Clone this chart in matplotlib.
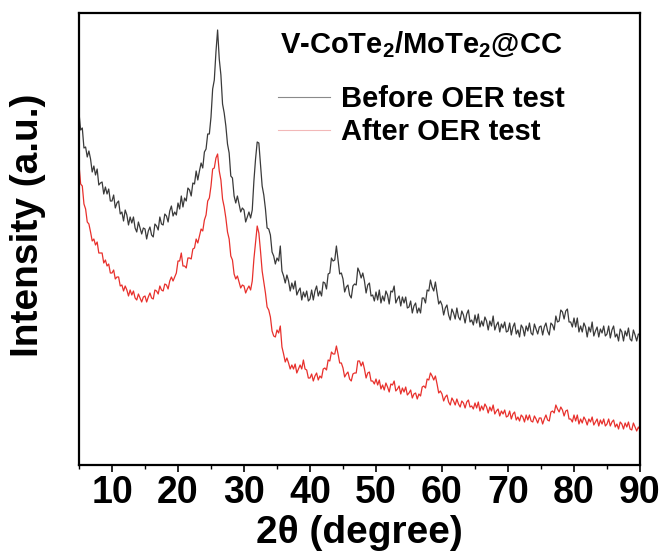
import numpy as np
import matplotlib
matplotlib.use("Agg")
import matplotlib.pyplot as plt
from matplotlib.lines import Line2D

plt.rcParams['font.family'] = ['Liberation Sans', 'DejaVu Sans']
plt.rcParams['font.weight'] = 'bold'
plt.rcParams['mathtext.fontset'] = 'custom'
plt.rcParams['mathtext.rm'] = 'Liberation Sans:bold'
plt.rcParams['mathtext.bf'] = 'Liberation Sans:bold'
plt.rcParams['mathtext.it'] = 'Liberation Sans:bold'

# scan positions, 2theta from 5 to 90 deg, 0.25 deg step
two_theta = np.arange(5.0, 90.001, 0.25)

# before OER test (grey) (a.u.), one row = 5 deg
before_oer = [
    352, 335, 337, 317, 318, 308, 314, 306, 293, 299, 290, 296, 280, 282, 283, 271, 278, 271, 276, 264,
    264, 270, 257, 262, 264, 251, 253, 244, 255, 250, 240, 248, 242, 248, 237, 233, 243, 237, 231, 237,
    236, 226, 234, 238, 230, 228, 241, 239, 235, 248, 241, 240, 251, 249, 243, 254, 259, 249, 253, 250,
    262, 256, 269, 258, 267, 264, 277, 275, 269, 282, 281, 294, 285, 294, 302, 297, 313, 316, 331, 331,
    348, 376, 385, 413, 435, 406, 390, 361, 352, 339, 321, 312, 289, 287, 269, 262, 269, 261, 253, 257,
    255, 243, 248, 253, 247, 255, 284, 306, 323, 322, 300, 279, 270, 256, 237, 236, 230, 213, 209, 201,
    207, 204, 219, 194, 189, 182, 190, 184, 174, 182, 176, 184, 170, 174, 177, 165, 173, 168, 174, 164,
    166, 175, 165, 174, 179, 169, 174, 169, 183, 182, 176, 191, 192, 207, 204, 205, 219, 205, 191, 192,
    186, 173, 178, 180, 170, 167, 179, 181, 180, 197, 193, 187, 192, 184, 172, 180, 182, 169, 170, 164,
    173, 165, 175, 162, 169, 164, 174, 170, 161, 174, 173, 179, 162, 166, 169, 159, 168, 162, 168, 157,
    158, 164, 152, 159, 162, 152, 157, 152, 167, 167, 162, 175, 174, 185, 178, 174, 183, 172, 161, 164,
    160, 150, 157, 160, 150, 145, 156, 152, 146, 157, 148, 145, 154, 150, 142, 151, 155, 143, 145, 140,
    150, 142, 151, 138, 144, 139, 148, 144, 135, 144, 139, 149, 135, 140, 143, 133, 141, 137, 143, 133,
    134, 142, 130, 138, 142, 131, 135, 128, 140, 137, 129, 139, 134, 142, 132, 130, 141, 136, 131, 138,
    139, 130, 138, 142, 134, 130, 142, 140, 135, 149, 143, 144, 155, 153, 146, 154, 156, 143, 143, 138,
    147, 138, 147, 133, 139, 133, 142, 138, 128, 138, 133, 143, 129, 134, 138, 128, 136, 132, 139, 129,
    131, 139, 127, 135, 139, 128, 131, 124, 136, 133, 124, 134, 129, 137, 126, 124, 135, 130, 124, 131,
    130,
]

# after OER test (red)
after_oer = [
    300, 281, 279, 261, 256, 243, 241, 233, 224, 226, 220, 223, 212, 212, 212, 202, 205, 199, 201, 192,
    192, 195, 186, 188, 188, 179, 180, 174, 179, 175, 169, 175, 170, 174, 167, 165, 171, 167, 163, 168,
    169, 163, 168, 172, 167, 166, 175, 174, 171, 179, 175, 174, 181, 180, 176, 184, 188, 184, 188, 192,
    204, 204, 212, 199, 199, 197, 207, 207, 206, 216, 217, 226, 222, 229, 236, 234, 245, 250, 264, 267,
    279, 296, 297, 307, 311, 294, 285, 266, 258, 247, 233, 226, 209, 205, 191, 186, 189, 183, 177, 180,
    179, 172, 176, 179, 175, 184, 206, 223, 239, 232, 214, 194, 183, 172, 158, 155, 148, 134, 129, 128,
    135, 132, 139, 118, 111, 103, 107, 102, 96, 100, 96, 101, 92, 96, 100, 96, 105, 96, 95, 87,
    87, 91, 84, 89, 92, 85, 89, 87, 96, 97, 95, 105, 104, 113, 111, 111, 119, 111, 102, 102,
    97, 88, 91, 93, 86, 84, 91, 92, 92, 104, 104, 99, 103, 96, 87, 92, 93, 84, 84, 81,
    86, 80, 85, 76, 80, 75, 82, 78, 73, 81, 80, 84, 74, 76, 79, 71, 77, 73, 78, 70,
    72, 75, 67, 71, 72, 66, 71, 69, 78, 79, 77, 86, 85, 92, 89, 85, 89, 81, 72, 74,
    71, 64, 68, 70, 63, 60, 67, 64, 60, 66, 61, 58, 64, 62, 57, 63, 65, 58, 59, 56,
    62, 57, 63, 54, 59, 55, 61, 58, 52, 58, 54, 60, 51, 54, 56, 49, 54, 51, 55, 48,
    49, 54, 46, 51, 53, 45, 48, 44, 50, 48, 43, 50, 45, 50, 44, 43, 49, 46, 42, 47,
    47, 41, 46, 50, 45, 44, 53, 54, 52, 60, 56, 53, 58, 55, 49, 54, 55, 46, 46, 43,
    50, 44, 50, 41, 46, 42, 48, 45, 40, 46, 43, 48, 40, 43, 46, 39, 45, 41, 46, 39,
    41, 46, 39, 43, 45, 38, 41, 36, 43, 41, 36, 42, 38, 43, 36, 35, 42, 38, 34, 38,
    35,
]

labels = ['Before OER test', 'After OER test']
sample_name = r'V-CoTe$_2$/MoTe$_2$@CC'

fig = plt.figure(figsize=(6.65, 5.54), dpi=100)
ax = fig.add_axes([79 / 665, 1 - 465 / 554, 561 / 665, 452 / 554])

ax.plot(two_theta, before_oer, color='#3a3a3a', lw=0.9)
ax.plot(two_theta, after_oer, color='#e8302c', lw=0.9)

ax.set_xlim(5, 90)
ax.set_ylim(0, 452)
ax.set_xticks(np.arange(10, 91, 10))
ax.set_xticks(np.arange(5, 91, 10), minor=True)
ax.set_yticks([])
ax.tick_params(axis='x', which='major', direction='out', length=5, width=1.2,
               labelsize=27, pad=2)
ax.tick_params(axis='x', which='minor', direction='out', length=3, width=1.0)
for s in ax.spines.values():
    s.set_linewidth(1.6)

fig.text(359 / 665, 1 - 533 / 554, '2θ (degree)', fontsize=28, fontweight='bold',
         ha='center', va='center')
fig.text(28 / 665, 1 - 225 / 554, 'Intensity (a.u.)', fontsize=28, fontweight='bold',
         rotation=90, ha='center', va='center')

fig.text(280 / 665, 1 - 45 / 554, sample_name, fontsize=21, fontweight='bold',
         ha='left', va='center')

handles = [Line2D([], [], color='#8a8a8a', lw=0.8),
           Line2D([], [], color='#f2b8b8', lw=0.8)]
ax.legend(handles, labels, loc='upper left', bbox_to_anchor=(278 / 665, 1 - 85 / 554),
          bbox_transform=fig.transFigure, frameon=False, fontsize=21,
          handlelength=1.78, handletextpad=0.38, labelspacing=0.17,
          borderpad=0, borderaxespad=0)

fig.savefig('out.png', dpi=100)
